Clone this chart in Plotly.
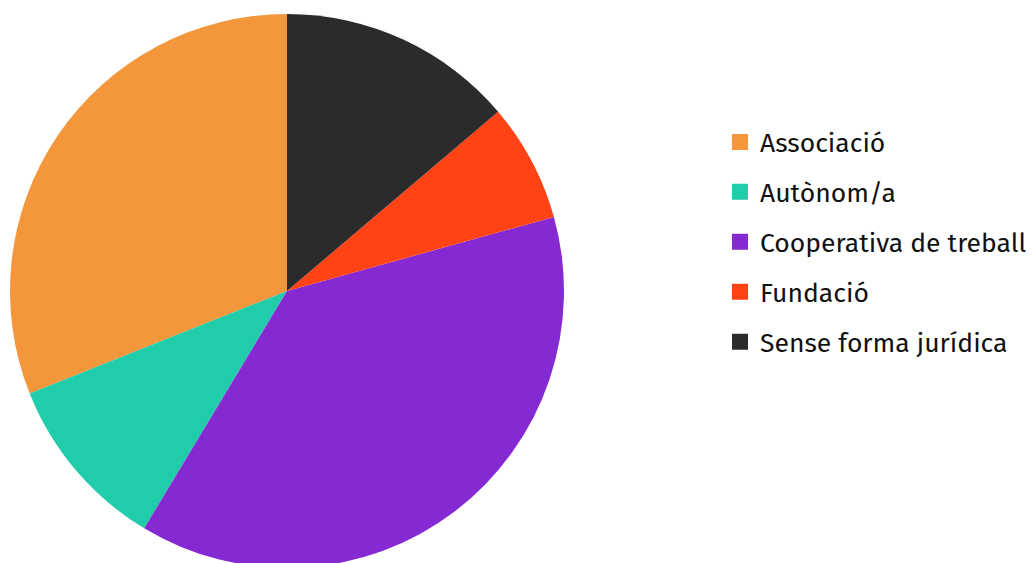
import plotly.graph_objects as go

labels = ["Associació", "Autònom/a", "Cooperativa de treball", "Fundació", "Sense forma jurídica"]
values = [9, 3, 11, 2, 4]
colors = ["#F4963B", "#20CCA9", "#852AD3", "#FF4315", "#2B2B2B"]

# first slice starts at 12 o'clock and runs counterclockwise
start_rotation = -values[0] / sum(values) * 360

fig = go.Figure()
fig.add_trace(go.Pie(
    labels=labels, values=values, sort=False, direction="counterclockwise",
    rotation=start_rotation, textinfo="none", hoverinfo="label+value+percent",
    marker=dict(colors=colors, line=dict(width=0)),
    domain=dict(x=[0, 554 / 1032], y=[3 / 557, 1]),
    showlegend=False,
))
for i, (lab, col) in enumerate(zip(labels, colors)):
    fig.add_trace(go.Scatter(
        x=[None], y=[None], mode="markers", name=lab, legendgroup=f"g{i}",
        marker=dict(symbol="square", size=16, color=col),
        showlegend=True, hoverinfo="skip",
    ))

fig.update_layout(
    width=1034, height=563,
    margin=dict(l=2, r=0, t=6, b=0),
    paper_bgcolor="white", plot_bgcolor="white",
    xaxis=dict(visible=False), yaxis=dict(visible=False),
    font=dict(family="Fira Sans, Open Sans, sans-serif", color="#111111"),
    legend=dict(
        x=0.688, y=0.813, xanchor="left", yanchor="top",
        font=dict(size=26.5), tracegroupgap=12.5, traceorder="grouped",
        bgcolor="rgba(0,0,0,0)",
    ),
)
fig.write_html("out.html")
